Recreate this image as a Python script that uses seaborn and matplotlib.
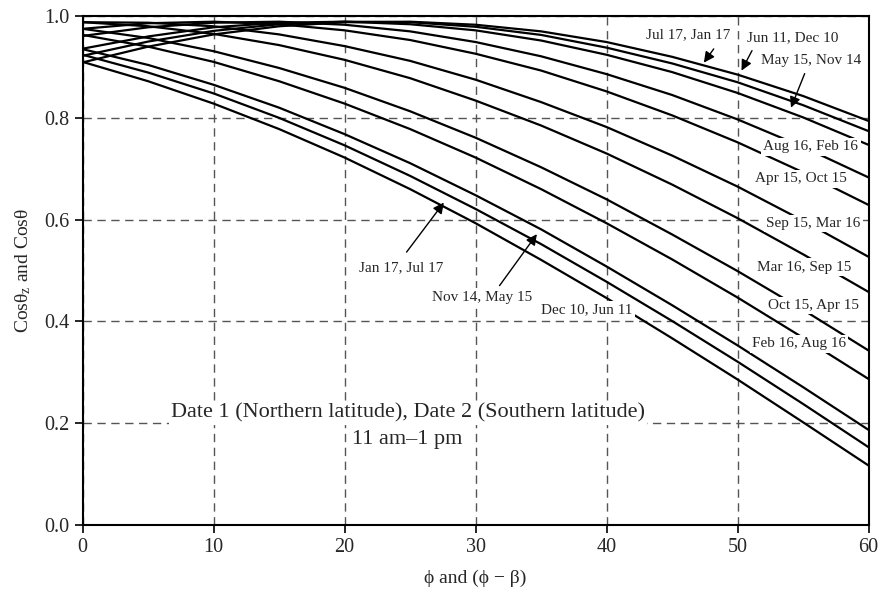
import matplotlib
matplotlib.use("Agg")
import matplotlib.pyplot as plt
import pandas as pd
import seaborn as sns

# latitude (deg) at which the curves were read
phi = [0, 5, 10, 15, 20, 25, 30, 35, 40, 45, 50, 55, 60]

# cos(theta), one list per pair of dates
jun11 = [0.909, 0.940, 0.964, 0.980, 0.988, 0.989, 0.983, 0.970, 0.949, 0.920, 0.885, 0.843, 0.794]
jul17 = [0.922, 0.950, 0.971, 0.984, 0.989, 0.988, 0.979, 0.963, 0.938, 0.907, 0.870, 0.825, 0.774]
may15 = [0.936, 0.960, 0.978, 0.987, 0.989, 0.984, 0.972, 0.952, 0.924, 0.890, 0.849, 0.801, 0.747]
aug16 = [0.961, 0.978, 0.987, 0.989, 0.983, 0.970, 0.949, 0.921, 0.886, 0.845, 0.797, 0.743, 0.683]
apr15 = [0.975, 0.986, 0.989, 0.984, 0.972, 0.953, 0.926, 0.893, 0.852, 0.805, 0.752, 0.693, 0.629]
sep15 = [0.988, 0.987, 0.980, 0.964, 0.941, 0.912, 0.875, 0.831, 0.782, 0.726, 0.665, 0.598, 0.527]
mar16 = [0.988, 0.980, 0.965, 0.943, 0.914, 0.878, 0.834, 0.785, 0.730, 0.669, 0.603, 0.532, 0.458]
oct15 = [0.975, 0.957, 0.931, 0.898, 0.859, 0.813, 0.761, 0.703, 0.640, 0.571, 0.499, 0.423, 0.343]
feb16 = [0.963, 0.940, 0.910, 0.872, 0.828, 0.778, 0.722, 0.660, 0.593, 0.522, 0.447, 0.368, 0.287]
nov14 = [0.935, 0.904, 0.865, 0.820, 0.768, 0.711, 0.648, 0.581, 0.508, 0.432, 0.353, 0.271, 0.187]
jan17 = [0.924, 0.889, 0.848, 0.800, 0.746, 0.686, 0.621, 0.552, 0.478, 0.401, 0.321, 0.238, 0.153]
dec10 = [0.910, 0.872, 0.828, 0.778, 0.722, 0.660, 0.593, 0.521, 0.446, 0.367, 0.286, 0.202, 0.117]

curves = {
    "Jun 11": jun11, "Jul 17": jul17, "May 15": may15, "Aug 16": aug16,
    "Apr 15": apr15, "Sep 15": sep15, "Mar 16": mar16, "Oct 15": oct15,
    "Feb 16": feb16, "Nov 14": nov14, "Jan 17": jan17, "Dec 10": dec10,
}

df = pd.concat(
    [pd.DataFrame({"phi": phi, "cos": v, "date": k}) for k, v in curves.items()],
    ignore_index=True,
)

sns.set_style("ticks")
plt.rcParams["font.family"] = ["Liberation Serif", "DejaVu Serif"]
plt.rcParams["mathtext.fontset"] = "custom"
plt.rcParams["mathtext.rm"] = "Liberation Serif"
plt.rcParams["mathtext.it"] = "Liberation Serif"

fig, ax = plt.subplots(figsize=(8.8, 5.96), dpi=100)
fig.subplots_adjust(left=0.094, right=0.987, top=0.973, bottom=0.119)

sns.lineplot(data=df, x="phi", y="cos", hue="date", palette=["black"] * 12,
             legend=False, lw=1.6, ax=ax, zorder=3)

ax.set_xlim(0, 60)
ax.set_ylim(0, 1.0)
ax.set_xticks(range(0, 61, 10))
ax.set_yticks([0.0, 0.2, 0.4, 0.6, 0.8, 1.0])
ax.set_yticklabels(["0.0", "0.2", "0.4", "0.6", "0.8", "1.0"])
ax.tick_params(labelsize=14.5, length=6, width=1.2, color="black")
ax.grid(True, ls=(0, (6, 4)), color="#555555", lw=1.0)
ax.set_axisbelow(True)
for s in ax.spines.values():
    s.set_linewidth(1.5)
    s.set_color("black")
    s.set_zorder(5)

ax.set_xlabel("\u03d5 and (\u03d5 \u2212 \u03b2)", fontsize=14, labelpad=9)
ax.set_ylabel(r"Cos$\theta_z$ and Cos$\theta$", fontsize=14, labelpad=8)

box = dict(fc="white", ec="none", pad=1.5)
arrow = dict(arrowstyle="-|>", color="black", lw=1.0, mutation_scale=16)

labels = [
    ("Jul 17, Jan 17", 46.2, 0.963),
    ("Jun 11, Dec 10", 54.2, 0.958),
    ("May 15, Nov 14", 55.6, 0.912),
    ("Aug 16, Feb 16", 55.6, 0.743),
    ("Apr 15, Oct 15", 54.8, 0.680),
    ("Sep 15, Mar 16", 55.8, 0.593),
    ("Mar 16, Sep 15", 55.1, 0.507),
    ("Oct 15, Apr 15", 55.8, 0.432),
    ("Feb 16, Aug 16", 54.7, 0.356),
    ("Jan 17, Jul 17", 24.3, 0.505),
    ("Nov 14, May 15", 30.5, 0.448),
    ("Dec 10, Jun 11", 38.5, 0.424),
]
for txt, x, y in labels:
    ax.text(x, y, txt, fontsize=11, ha="center", va="center", bbox=box, zorder=6)

arrows = [
    ((47.3, 0.904), (48.3, 0.940)),
    ((50.2, 0.888), (51.2, 0.937)),
    ((54.0, 0.815), (55.2, 0.892)),
    ((27.7, 0.638), (24.6, 0.532)),
    ((34.8, 0.576), (31.7, 0.466)),
]
for tip, tail in arrows:
    ax.annotate("", xy=tip, xytext=tail, arrowprops=arrow, zorder=7)

ax.text(24.8, 0.220, "Date 1 (Northern latitude), Date 2 (Southern latitude)",
        fontsize=16, ha="center", va="center", bbox=box, zorder=6)
ax.text(24.8, 0.169, "11 am\u20131 pm", fontsize=16, ha="center", va="center",
        bbox=box, zorder=6)

fig.savefig("out.png", dpi=100)
